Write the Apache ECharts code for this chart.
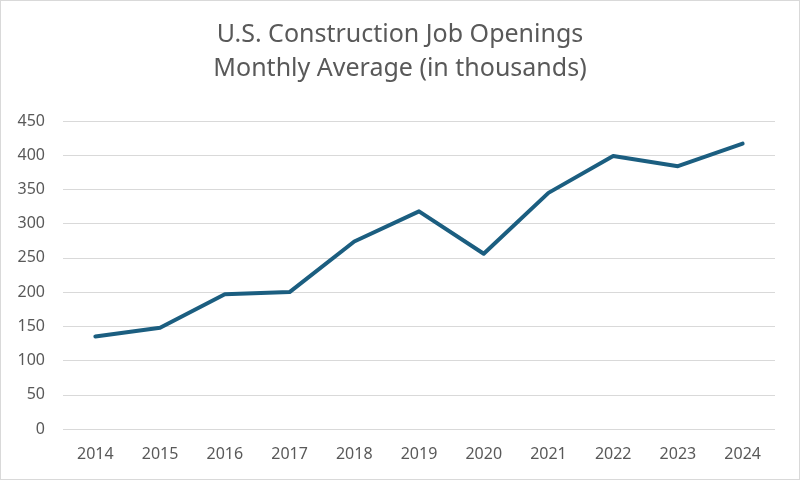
<!DOCTYPE html>
<html>
<head>
	<meta charset="utf-8"/>
	<title>U.S. Construction Job Openings</title>
	<style type="text/css">
		html,body{
			margin: 0;
			padding: 0;
			background: #ffffff;
		}
		#chart{
			width: 798px;
			height: 478px;
			border: 1px solid #d9d9d9;
		}
	</style>
</head>
<body>
	<div id="chart"></div>

	<script src="https://cdn.jsdelivr.net/npm/echarts@6/dist/echarts.min.js"></script>
	<script type="text/javascript">

		// data
		var years = ['2014','2015','2016','2017','2018','2019','2020','2021','2022','2023','2024'];
		var openings = [135, 148, 197, 200, 274, 318, 256, 345, 399, 384, 417];

		var textGray = '#595959';

		var chart = echarts.init(document.getElementById('chart'));

		var option = {
			animation: false,
			title: {
				text: 'U.S. Construction Job Openings\nMonthly Average (in thousands)',
				left: 'center',
				top: 12,
				textStyle: {
					color: textGray,
					fontFamily: 'Noto Sans',
					fontSize: 25,
					fontWeight: 'normal',
					lineHeight: 34
				}
			},
			grid: {
				left: 62,
				right: 24,
				top: 120,
				bottom: 50
			},
			xAxis: {
				type: 'category',
				data: years,
				boundaryGap: true,
				axisLine: { show: false },
				axisTick: { show: false },
				axisLabel: {
					color: textGray,
					fontFamily: 'Noto Sans',
					fontSize: 16,
					margin: 17
				}
			},
			yAxis: {
				type: 'value',
				min: 0,
				max: 450,
				interval: 50,
				axisLine: { show: false },
				axisTick: { show: false },
				axisLabel: {
					color: textGray,
					fontFamily: 'Noto Sans',
					fontSize: 16,
					margin: 18
				},
				splitLine: {
					lineStyle: { color: '#d9d9d9', width: 1 }
				}
			},
			series: [
				{
					name: 'Job Openings',
					type: 'line',
					data: openings,
					symbol: 'none',
					lineStyle: {
						color: '#1b5e80',
						width: 4,
						cap: 'round',
						join: 'round'
					}
				}
			]
		};

		chart.setOption(option);
	</script>
</body>
</html>
